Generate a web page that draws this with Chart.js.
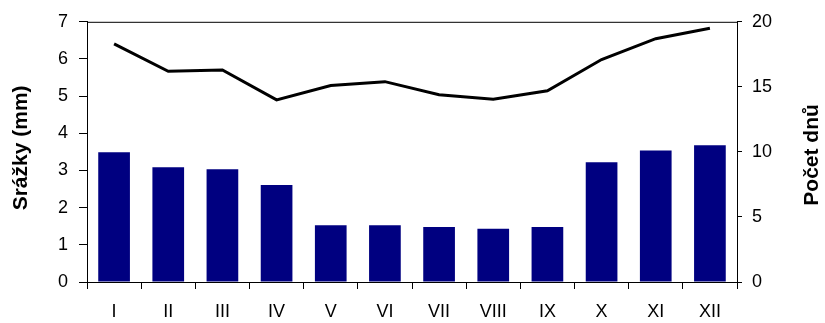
<!DOCTYPE html>
<html>
<head>
<meta charset="utf-8">
<script src="https://cdn.jsdelivr.net/npm/chart.js@4"></script>
<style>
  html, body { margin: 0; padding: 0; background: #fff; }
  canvas { display: block; }
</style>
</head>
<body>
<canvas id="srazkyChart" width="825" height="323"></canvas>
<script>
// Daten
const mesice = ['I', 'II', 'III', 'IV', 'V', 'VI', 'VII', 'VIII', 'IX', 'X', 'XI', 'XII'];
const srazky = [3.49, 3.09, 3.03, 2.61, 1.53, 1.53, 1.48, 1.43, 1.48, 3.22, 3.54, 3.68];
const pocetDnu = [18.3, 16.2, 16.3, 14.0, 15.1, 15.4, 14.4, 14.05, 14.7, 17.1, 18.7, 19.5];
const ticksLeft = [0, 1, 2, 3, 4, 5, 6, 7];
const ticksRight = [0, 5, 10, 15, 20];

const fontName = '"Liberation Sans", Arial, sans-serif';

// Rahmen um die Plotfläche und gedrehte Achsentitel
const framePlugin = {
    id: 'frame',
    afterDraw(chart) {
        const { ctx, chartArea } = chart;
        ctx.save();
        ctx.strokeStyle = '#000';
        ctx.lineWidth = 1;
        ctx.strokeRect(chartArea.left + 0.5, chartArea.top + 0.5,
            chartArea.right - chartArea.left, chartArea.bottom - chartArea.top);

        ctx.fillStyle = '#000';
        ctx.font = 'bold 21px ' + fontName;
        ctx.textAlign = 'center';
        ctx.textBaseline = 'middle';
        const midY = (chartArea.top + chartArea.bottom) / 2;
        ctx.translate(21, midY - 4);
        ctx.rotate(-Math.PI / 2);
        ctx.fillText('Srážky (mm)', 0, 0);
        ctx.restore();

        ctx.save();
        ctx.fillStyle = '#000';
        ctx.font = 'bold 21px ' + fontName;
        ctx.textAlign = 'center';
        ctx.textBaseline = 'middle';
        ctx.translate(812, midY + 3);
        ctx.rotate(-Math.PI / 2);
        ctx.fillText('Počet dnů', 0, 0);
        ctx.restore();
    }
};

const ctx = document.getElementById('srazkyChart').getContext('2d');

new Chart(ctx, {
    data: {
        labels: mesice,
        datasets: [
            {
                type: 'line',
                label: 'Počet dnů',
                data: pocetDnu,
                yAxisID: 'y2',
                borderColor: '#000',
                borderWidth: 3,
                pointRadius: 0,
                tension: 0,
                order: 0
            },
            {
                type: 'bar',
                label: 'Srážky (mm)',
                data: srazky,
                yAxisID: 'y',
                backgroundColor: '#000080',
                borderWidth: 0,
                barPercentage: 0.585,
                categoryPercentage: 1.0,
                order: 1
            }
        ]
    },
    options: {
        responsive: false,
        animation: false,
        layout: { padding: { top: 21, left: 0, right: 0, bottom: 0 } },
        plugins: {
            legend: { display: false },
            tooltip: { enabled: false }
        },
        scales: {
            x: {
                grid: {
                    offset: true,
                    drawOnChartArea: false,
                    tickLength: 7,
                    tickColor: '#000',
                    tickWidth: 1
                },
                border: { color: '#000', width: 1 },
                ticks: {
                    color: '#000',
                    font: { family: fontName, size: 18 },
                    padding: 12,
                    maxRotation: 0,
                    autoSkip: false
                },
                afterFit(scale) { scale.height = 41; }
            },
            y: {
                position: 'left',
                min: 0,
                max: 7,
                afterBuildTicks(scale) { scale.ticks = ticksLeft.map(v => ({ value: v })); },
                grid: {
                    drawOnChartArea: false,
                    tickLength: 8,
                    tickColor: '#000'
                },
                border: { color: '#000', width: 1 },
                ticks: {
                    color: '#000',
                    font: { family: fontName, size: 18 },
                    padding: 11
                },
                afterFit(scale) { scale.width = 87; }
            },
            y2: {
                position: 'right',
                min: 0,
                max: 20,
                afterBuildTicks(scale) { scale.ticks = ticksRight.map(v => ({ value: v })); },
                grid: {
                    drawOnChartArea: false,
                    tickLength: 5,
                    tickColor: '#000'
                },
                border: { color: '#000', width: 1 },
                ticks: {
                    color: '#000',
                    font: { family: fontName, size: 18 },
                    padding: 10
                },
                afterFit(scale) { scale.width = 88; }
            }
        }
    },
    plugins: [framePlugin]
});
</script>
</body>
</html>
